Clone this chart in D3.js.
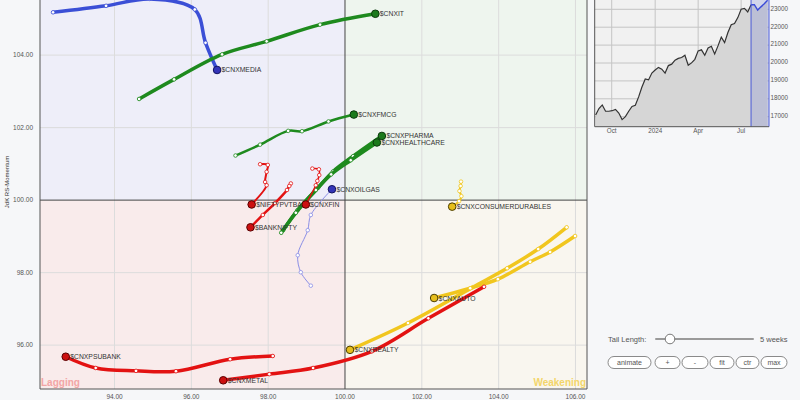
<!DOCTYPE html>
<html>
<head>
<meta charset="utf-8">
<script src="https://cdn.jsdelivr.net/npm/d3@7"></script>
<style>
  html, body { margin: 0; padding: 0; background: #f6f7f9; }
  svg { display: block; font-family: Arial, "Liberation Sans", sans-serif; }
</style>
</head>
<body>
<svg id="chart" width="800" height="400"></svg>
<script>
// ---------- RRG data (JdK RS-Ratio, JdK RS-Momentum), oldest -> newest ----------
const seriesNames = ["$CNXMEDIA","$CNXIT","$CNXFMCG","$CNXPHARMA","$CNXHEALTHCARE","$CNXOILGAS",
  "$NIFTYPVTBANK","$BANKNIFTY","$CNXFIN","$CNXCONSUMERDURABLES","$CNXREALTY","$CNXAUTO","$CNXMETAL","$CNXPSUBANK"];
const seriesColors = ["blue","green","green","green","green","blue",
  "red","red","red","yellow","yellow","yellow","red","red"];

const ratioMEDIA   = [92.40, 93.78, 94.92, 96.09, 96.37, 96.67];
const momMEDIA     = [105.18,105.36,105.55,105.26,104.34,103.59];
const ratioIT      = [94.64, 95.55, 96.80, 97.96, 99.35, 100.79];
const momIT        = [102.79,103.33,104.02,104.38,104.84,105.14];
const ratioFMCG    = [97.15, 97.79, 98.52, 98.88, 99.57, 100.23];
const momFMCG      = [101.23,101.53,101.91,101.90,102.17,102.36];
const ratioPHARMA  = [98.39, 98.76, 99.30, 99.69, 100.21, 100.96];
const momPHARMA    = [99.17, 99.72, 100.34,100.79,101.21,101.77];
const ratioHEALTH  = [98.34, 98.72, 99.24, 99.64, 100.15, 100.83];
const momHEALTH    = [99.10, 99.65, 100.28,100.71,101.10,101.59];
const ratioOILGAS  = [99.11, 98.85, 98.77, 99.03, 99.11, 99.66];
const momOILGAS    = [97.64, 98.01, 98.48, 99.17, 99.59, 100.30];
const ratioPVTBANK = [97.79, 97.99, 97.96, 97.92, 97.96, 97.57];
const momPVTBANK   = [100.99,100.97,100.78,100.50,100.41,99.88];
const ratioBANK    = [98.59, 98.55, 98.49, 98.18, 97.86, 97.54];
const momBANK      = [100.46,100.39,100.28,99.92, 99.59, 99.25];
const ratioFIN     = [99.15, 99.32, 99.33, 99.28, 99.24, 98.98];
const momFIN       = [100.87,100.85,100.69,100.53,100.41,99.88];
const ratioCONS    = [103.02,103.01,102.98,103.03,102.97,102.79];
const momCONS      = [100.51,100.39,100.25,100.11,99.97, 99.82];
const ratioREALTY  = [105.77,105.03,104.22,103.33,101.64,100.13];
const momREALTY    = [99.25, 98.65, 98.12, 97.60, 96.61, 95.87];
const ratioAUTO    = [105.99,105.34,104.82,103.98,103.26,102.32];
const momAUTO      = [99.01, 98.57, 98.30, 97.82, 97.57, 97.30];
const ratioMETAL   = [103.62,102.17,100.70,99.17, 98.03, 96.83];
const momMETAL     = [97.61, 96.74, 95.83, 95.37, 95.20, 95.03];
const ratioPSU     = [98.12, 97.01, 95.60, 94.56, 93.51, 92.73];
const momPSU       = [95.70, 95.61, 95.28, 95.29, 95.37, 95.68];

const seriesRatios = [ratioMEDIA,ratioIT,ratioFMCG,ratioPHARMA,ratioHEALTH,ratioOILGAS,
  ratioPVTBANK,ratioBANK,ratioFIN,ratioCONS,ratioREALTY,ratioAUTO,ratioMETAL,ratioPSU];
const seriesMoms = [momMEDIA,momIT,momFMCG,momPHARMA,momHEALTH,momOILGAS,
  momPVTBANK,momBANK,momFIN,momCONS,momREALTY,momAUTO,momMETAL,momPSU];

const xTicks = [94, 96, 98, 100, 102, 104, 106];
const yTicks = [96, 98, 100, 102, 104];
const quadrantLabels = ["Lagging", "Weakening"];

// ---------- benchmark price (weekly) ----------
const priceStart = "2023-08-28";
const priceValues = [17040,17400,17600,17250,17250,17280,17350,17150,16780,16950,
  17250,17520,17580,18050,18600,19050,19000,19380,19550,19700,
  19600,19380,19800,19880,20100,20200,20250,20380,19820,19950,
  20150,20620,20680,20380,20780,20880,20450,20900,21390,21080,
  21650,22080,22150,22480,22950,23000,22800,23200,23200,22900,
  23080,23250,23450];
const priceYTicks = [17000,18000,19000,20000,21000,22000,23000];
const priceXTickDates = ["2023-10-01","2024-01-01","2024-04-01","2024-07-01"];
const priceXTickLabels = ["Oct","2024","Apr","Jul"];
const tailLength = 5;
const buttonLabels = ["animate","+","-","fit","ctr","max"];

// ---------- styles ----------
const palette = {
  green:  {line:"#1e8a1e", head:"#1c7a1c", headStroke:"#0b3a0b"},
  blue:   {line:"#3b4fd6", head:"#3434b8", headStroke:"#121260"},
  red:    {line:"#e31212", head:"#cc1010", headStroke:"#5a0000"},
  yellow: {line:"#f1c61e", head:"#e6be1c", headStroke:"#4a3c00"}
};
const lineWidths = [3.5,3.5,2.5,3.5,3.5,1,2,2.5,1.5,2,3.5,3.5,3.5,3.5];

const svg = d3.select("#chart");

// ---------- RRG plot ----------
const L = 40, R = 587, T = 0, B = 389;
const x = d3.scaleLinear().domain([92.06, 106.3]).range([L, R]);
const y = d3.scaleLinear().domain([94.79, 105.52]).range([B, T]);

const g = svg.append("g");
const cx = x(100), cy = y(100);
g.append("rect").attr("x", L).attr("y", T).attr("width", cx - L).attr("height", cy - T).attr("fill", "#eeeef9");
g.append("rect").attr("x", cx).attr("y", T).attr("width", R - cx).attr("height", cy - T).attr("fill", "#eef5ee");
g.append("rect").attr("x", L).attr("y", cy).attr("width", cx - L).attr("height", B - cy).attr("fill", "#f9ebeb");
g.append("rect").attr("x", cx).attr("y", cy).attr("width", R - cx).attr("height", B - cy).attr("fill", "#f9f6ef");

// grid
g.selectAll(".vg").data(xTicks.filter(d => d !== 100)).join("line")
  .attr("x1", d => x(d)).attr("x2", d => x(d)).attr("y1", T).attr("y2", B)
  .attr("stroke", "#dcdcdc").attr("stroke-width", 1);
g.selectAll(".hg").data(yTicks.filter(d => d !== 100)).join("line")
  .attr("x1", L).attr("x2", R).attr("y1", d => y(d)).attr("y2", d => y(d))
  .attr("stroke", "#dcdcdc").attr("stroke-width", 1);

// center lines
g.append("line").attr("x1", cx).attr("x2", cx).attr("y1", T).attr("y2", B).attr("stroke", "#444").attr("stroke-width", 1);
g.append("line").attr("x1", L).attr("x2", R).attr("y1", cy).attr("y2", cy).attr("stroke", "#444").attr("stroke-width", 1);

// border
g.append("line").attr("x1", L).attr("x2", L).attr("y1", T).attr("y2", B).attr("stroke", "#555");
g.append("line").attr("x1", R).attr("x2", R).attr("y1", T).attr("y2", B).attr("stroke", "#555");
g.append("line").attr("x1", L).attr("x2", R).attr("y1", B).attr("y2", B).attr("stroke", "#555");

// ticks
g.selectAll(".xt").data(xTicks).join("text")
  .attr("x", d => x(d)).attr("y", 399).attr("text-anchor", "middle")
  .attr("font-size", 6.5).attr("fill", "#555").text(d => d3.format(".2f")(d));
g.selectAll(".yt").data(yTicks).join("text")
  .attr("x", 33).attr("y", d => y(d) + 2.3).attr("text-anchor", "end")
  .attr("font-size", 6.5).attr("fill", "#555").text(d => d3.format(".2f")(d));
g.append("text").attr("transform", "translate(9,182) rotate(-90)").attr("text-anchor", "middle")
  .attr("font-size", 6).attr("fill", "#333").text("JdK RS-Momentum");

// quadrant labels
g.append("text").attr("x", L + 1).attr("y", B - 3).attr("font-size", 10).attr("font-weight", "bold")
  .attr("fill", "#f2a5a5").text(quadrantLabels[0]);
g.append("text").attr("x", R - 1).attr("y", B - 3).attr("text-anchor", "end").attr("font-size", 10).attr("font-weight", "bold")
  .attr("fill", "#f3d56a").text(quadrantLabels[1]);

// tails
svg.append("clipPath").attr("id", "plotclip").append("rect")
  .attr("x", L).attr("y", T).attr("width", R - L).attr("height", B - T);
const tails = svg.append("g").attr("clip-path", "url(#plotclip)");
const lineGen = d3.line().x(d => x(d[0])).y(d => y(d[1])).curve(d3.curveCatmullRom.alpha(0.5));

seriesNames.forEach((name, i) => {
  const pts = seriesRatios[i].map((r, k) => [r, seriesMoms[i][k]]);
  const c = palette[seriesColors[i]];
  const lc = name === "$CNXOILGAS" ? "#8a8ee6" : c.line;
  tails.append("path").datum(pts).attr("d", lineGen).attr("fill", "none")
    .attr("stroke", lc).attr("stroke-width", lineWidths[i]).attr("stroke-linecap", "round");
  tails.selectAll(null).data(pts.slice(0, -1)).join("circle")
    .attr("cx", d => x(d[0])).attr("cy", d => y(d[1])).attr("r", 1.8)
    .attr("fill", "#fff").attr("stroke", lc).attr("stroke-width", 0.8);
});
seriesNames.forEach((name, i) => {
  const c = palette[seriesColors[i]];
  const n = seriesRatios[i].length - 1;
  const hx = x(seriesRatios[i][n]), hy = y(seriesMoms[i][n]);
  tails.append("circle").attr("cx", hx).attr("cy", hy).attr("r", 3.8)
    .attr("fill", c.head).attr("stroke", c.headStroke).attr("stroke-width", 1);
  tails.append("text").attr("x", hx + 4.5).attr("y", hy + 2.5)
    .attr("font-size", 6.8).attr("fill", "#333").text(name);
});

// ---------- price chart ----------
const parse = d3.timeParse("%Y-%m-%d");
const d0 = parse(priceStart);
const priceData = priceValues.map((v, k) => ({date: d3.timeWeek.offset(d0, k), v}));
const PL = 594.7, PR = 769, PB = 126.7, PT = -5;
const px = d3.scaleTime().domain([parse("2023-08-26"), parse("2024-08-29")]).range([PL, PR]);
const py = d3.scaleLinear().domain([17000, 23000]).range([115.7, 8.3]);

const pg = svg.append("g");
pg.append("rect").attr("x", PL).attr("y", PT).attr("width", PR - PL).attr("height", PB - PT).attr("fill", "#f1f1f1");
pg.selectAll(".pyg").data(priceYTicks).join("line")
  .attr("x1", PL).attr("x2", PR).attr("y1", d => py(d) + 1).attr("y2", d => py(d) + 1)
  .attr("stroke", "#c4c4c4");
const tickDates = priceXTickDates.map(parse);
pg.selectAll(".pxg").data(tickDates).join("line")
  .attr("x1", d => px(d)).attr("x2", d => px(d)).attr("y1", PT).attr("y2", PB)
  .attr("stroke", "#c4c4c4");

const area = d3.area().x(d => px(d.date)).y0(PB).y1(d => py(d.v));
const pline = d3.line().x(d => px(d.date)).y(d => py(d.v));
const hiStart = priceData.length - 1 - tailLength;
pg.append("path").datum(priceData).attr("d", area).attr("fill", "#d6d6d6");
pg.append("rect").attr("x", px(priceData[hiStart].date)).attr("y", PT)
  .attr("width", PR - px(priceData[hiStart].date)).attr("height", PB - PT)
  .attr("fill", "#4a5ad0").attr("fill-opacity", 0.18);
pg.append("path").datum(priceData.slice(0, hiStart + 1)).attr("d", pline)
  .attr("fill", "none").attr("stroke", "#333").attr("stroke-width", 1.2);
pg.append("path").datum(priceData.slice(hiStart)).attr("d", pline)
  .attr("fill", "none").attr("stroke", "#3a4ad8").attr("stroke-width", 1.4);
pg.append("line").attr("x1", px(priceData[hiStart].date)).attr("x2", px(priceData[hiStart].date))
  .attr("y1", PT).attr("y2", PB).attr("stroke", "#4a5ad8").attr("stroke-width", 1);
pg.append("line").attr("x1", PR).attr("x2", PR).attr("y1", PT).attr("y2", PB).attr("stroke", "#4a5ad8").attr("stroke-width", 1);
pg.append("line").attr("x1", PL).attr("x2", PL).attr("y1", PT).attr("y2", PB).attr("stroke", "#555");
pg.append("line").attr("x1", PL).attr("x2", PR).attr("y1", PB).attr("y2", PB).attr("stroke", "#555");

pg.selectAll(".pyt").data(priceYTicks).join("text")
  .attr("x", PR + 1.5).attr("y", d => py(d) + 2.3).attr("font-size", 6.3).attr("fill", "#555").text(d => d);
pg.selectAll(".pxt").data(tickDates).join("text")
  .attr("x", d => px(d)).attr("y", 133).attr("text-anchor", "middle")
  .attr("font-size", 6.3).attr("fill", "#555").text((d, k) => priceXTickLabels[k]);

// ---------- controls ----------
const cg = svg.append("g");
cg.append("text").attr("x", 608).attr("y", 341.5).attr("font-size", 7.5).attr("fill", "#555").text("Tail Length:");
cg.append("line").attr("x1", 656).attr("x2", 753).attr("y1", 339).attr("y2", 339).attr("stroke", "#9a9a9a").attr("stroke-width", 2).attr("stroke-linecap", "round");
cg.append("circle").attr("cx", 670).attr("cy", 339).attr("r", 4.8).attr("fill", "#fff").attr("stroke", "#777");
cg.append("text").attr("x", 760).attr("y", 341.5).attr("font-size", 7.5).attr("fill", "#555").text(tailLength + " weeks");

const btnX = [608, 655, 682, 710, 736, 761];
const btnW = [43, 25, 26, 24, 23, 26];
buttonLabels.forEach((b, k) => {
  cg.append("rect").attr("x", btnX[k]).attr("y", 356.5).attr("width", btnW[k]).attr("height", 12)
    .attr("rx", 6).attr("fill", "#fff").attr("stroke", "#8a8a8a");
  cg.append("text").attr("x", btnX[k] + btnW[k] / 2).attr("y", 365).attr("text-anchor", "middle")
    .attr("font-size", 7).attr("fill", "#555").text(b);
});
</script>
</body>
</html>
